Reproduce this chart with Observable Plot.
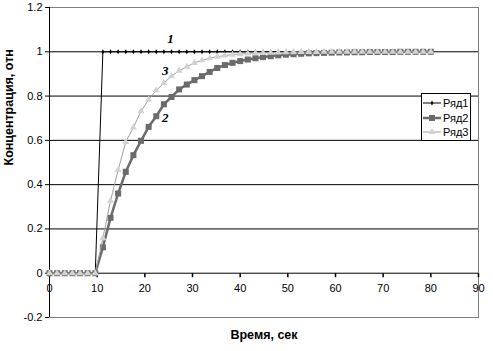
<!DOCTYPE html>
<html>
<head>
<meta charset="utf-8">
<script src="https://cdn.jsdelivr.net/npm/d3@7"></script>
<script src="https://cdn.jsdelivr.net/npm/@observablehq/plot@0.6"></script>
<style>
  html, body { margin: 0; padding: 0; background: #fff; }
  #wrap { position: relative; width: 493px; height: 351px; font-family: "Liberation Sans", Arial, sans-serif; }
  #legend { position: absolute; left: 421px; top: 93px; width: 48px; height: 44px; border: 1px solid #000; background: #fff; padding-top: 2px; }
  .row { display: flex; align-items: center; height: 14.5px; font-size: 11px; color: #000; }
  .row svg { margin-left: 1px; margin-right: 2px; }
</style>
</head>
<body>
<div id="wrap"></div>
<script>
// ---- data ----
const times = [0,1.6,3.2,4.8,6.4,8,9.6,11.2,12.8,14.4,16,17.6,19.2,20.8,22.4,24,25.6,27.2,28.8,30.4,32,33.6,35.2,36.8,38.4,40,41.6,43.2,44.8,46.4,48,49.6,51.2,52.8,54.4,56,57.6,59.2,60.8,62.4,64,65.6,67.2,68.8,70.4,72,73.6,75.2,76.8,78.4,80];
const series1 = [0,0,0,0,0,0,0,1,1,1,1,1,1,1,1,1,1,1,1,1,1,1,1,1,1,1,1,1,1,1,1,1,1,1,1,1,1,1,1,1,1,1,1,1,1,1,1,1,1,1,1];
const series2 = [0,0,0,0,0,0,0,0.117,0.25,0.36,0.458,0.533,0.598,0.661,0.709,0.763,0.796,0.83,0.852,0.872,0.89,0.909,0.927,0.94,0.95,0.958,0.965,0.971,0.976,0.98,0.984,0.987,0.989,0.991,0.993,0.994,0.995,0.996,0.997,0.997,0.998,0.998,0.999,0.999,0.999,0.999,1,1,1,1,1];
const series3 = [0,0,0,0,0,0,0,0.158,0.327,0.466,0.593,0.658,0.732,0.784,0.826,0.859,0.89,0.915,0.933,0.95,0.962,0.971,0.978,0.983,0.987,0.99,0.992,0.994,0.995,0.996,0.997,0.998,0.998,0.999,0.999,0.999,1,1,1,1,1,1,1,1,1,1,1,1,1,1,1];
const seriesNames = ["Ряд1", "Ряд2", "Ряд3"];
const xTicks = [0,10,20,30,40,50,60,70,80,90];
const yTicks = [-0.2,0,0.2,0.4,0.6,0.8,1,1.2];
const gridValues = [0.2,0.4,0.6,0.8,1];
const curveLabels = ["1","2","3"];
const curveLabelX = [25.4,24.3,24.3];
const curveLabelY = [1.06,0.70,0.912];
const xTitle = "Время, сек";
const yTitle = "Концентрация, отн";

// ---- build ----
const styles = [
  {stroke: "#000000", width: 1, fill: "#000000", symbol: "diamond", r: 1.5},
  {stroke: "#6b6b6b", width: 2.5, fill: "#6b6b6b", symbol: "square", r: 3.4},
  {stroke: "#a0a0a0", width: 1, fill: "#d2d2d2", symbol: "triangle", r: 2.6}
];
const allSeries = [series1, series2, series3];
const rows = allSeries.map((vals, i) => times.map((t, j) => ({t, v: vals[j], s: seriesNames[i]})));
const labels = curveLabels.map((l, i) => ({l, x: curveLabelX[i], y: curveLabelY[i]}));
const tickDown = {draw(ctx) { ctx.moveTo(0, 0); ctx.lineTo(0, 4); }};

const seriesMarks = rows.flatMap((data, i) => [
  Plot.line(data, {x: "t", y: "v", stroke: styles[i].stroke, strokeWidth: styles[i].width}),
  Plot.dot(data, {x: "t", y: "v", symbol: styles[i].symbol, r: styles[i].r, fill: styles[i].fill, stroke: "none"})
]);

const chart = Plot.plot({
  width: 493,
  height: 351,
  marginLeft: 49,
  marginRight: 15,
  marginTop: 7,
  marginBottom: 34,
  x: {domain: [0, 90]},
  y: {domain: [-0.2, 1.2]},
  style: {fontFamily: "'Liberation Sans', Arial, sans-serif", fontSize: "11px", background: "#fff", color: "#000"},
  marks: [
    Plot.frame({stroke: "#808080"}),
    Plot.ruleY(gridValues, {stroke: "#000"}),
    Plot.ruleY([0], {stroke: "#000"}),
    Plot.ruleX([0], {stroke: "#000"}),
    Plot.axisY({ticks: yTicks, tickFormat: d => String(d), tickSize: 4, tickPadding: 3, label: null, fontSize: 11}),
    Plot.axisX({ticks: [], label: null}),
    Plot.dot(xTicks, {x: d => d, y: 0, symbol: tickDown, r: 3, stroke: "#000", fill: "none"}),
    Plot.text(xTicks, {x: d => d, y: 0, text: d => String(d), dy: 15, fontSize: 11}),
    ...seriesMarks,
    Plot.text(labels, {x: "x", y: "y", text: "l", fontFamily: "'Liberation Serif', 'Times New Roman', serif", fontStyle: "italic", fontWeight: "bold", fontSize: 13}),
    Plot.text([xTitle], {frameAnchor: "bottom", dy: 21, fontWeight: "bold", fontSize: 12.5}),
    Plot.text([yTitle], {frameAnchor: "left", rotate: -90, dx: -41, dy: 3, fontWeight: "bold", fontSize: 12.5})
  ]
});

const wrap = document.getElementById("wrap");
wrap.appendChild(chart);

// legend
const legend = document.createElement("div");
legend.id = "legend";
seriesNames.forEach((name, i) => {
  const row = document.createElement("div");
  row.className = "row";
  const st = styles[i];
  const sym = d3.symbol().type(st.symbol === "diamond" ? d3.symbolDiamond : st.symbol === "square" ? d3.symbolSquare : d3.symbolTriangle).size(Math.PI * st.r * st.r)();
  row.innerHTML = `<svg width="18" height="10"><line x1="0" x2="18" y1="5" y2="5" stroke="${st.stroke}" stroke-width="${st.width}"/><path d="${sym}" transform="translate(9,5)" fill="${st.fill}"/></svg><span>${name}</span>`;
  legend.appendChild(row);
});
wrap.appendChild(legend);
</script>
</body>
</html>
